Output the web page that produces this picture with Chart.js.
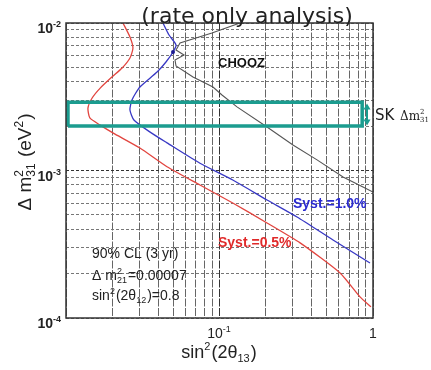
<!DOCTYPE html>
<html lang="en">
<head>
  <meta charset="UTF-8">
  <title>rate only analysis</title>
  <script src="https://cdn.jsdelivr.net/npm/chart.js"></script>
  <style>
    body { margin: 0; background: #fff; }
    canvas { display: block; }
  </style>
</head>
<body>
  <canvas id="chart" width="431" height="370"></canvas>

  <script>
    // Syst. = 0.5% (red)
    const redX = [0.0235, 0.0261, 0.0273, 0.0261, 0.0232, 0.0199, 0.0167, 0.0148, 0.0139, 0.0143, 0.0167,
                  0.0202, 0.0303, 0.0455, 0.0746, 0.122, 0.204, 0.335, 0.610, 0.823, 0.970];
    const redY = [0.01, 0.00804, 0.00677, 0.00579, 0.00495, 0.0043, 0.00362, 0.0031, 0.00265, 0.00227, 0.00203,
                  0.0018, 0.00142, 0.00106, 0.000797, 0.000602, 0.000441, 0.000323, 0.000202, 0.000139, 0.000119];

    // Syst. = 1.0% (blue)
    const blueX = [0.0428, 0.0469, 0.0521, 0.0498, 0.0448, 0.0392, 0.0303, 0.0269, 0.0261, 0.0277, 0.0353,
                   0.0455, 0.0746, 0.122, 0.204, 0.320, 0.549, 0.956];
    const blueY = [0.01, 0.00829, 0.00709, 0.00636, 0.00544, 0.00465, 0.00368, 0.00301, 0.00257, 0.0022, 0.00182,
                   0.00154, 0.00112, 0.000862, 0.000631, 0.000484, 0.000338, 0.000236];

    // CHOOZ limit (gray)
    const choozX = [0.136, 0.0893, 0.0553, 0.0521, 0.0587, 0.0513, 0.0521, 0.0672, 0.0907, 0.1038, 0.130,
                    0.204, 0.301, 0.432, 0.638, 0.861, 1.0];
    const choozY = [0.01, 0.00856, 0.00732, 0.00656, 0.00607, 0.00561, 0.00511, 0.00431, 0.00368, 0.00325, 0.0027,
                    0.00197, 0.00149, 0.00118, 0.000903, 0.000773, 0.000714];

    // SK allowed band
    const skX = [0.0103, 0.85];
    const skY = [0.002, 0.0029];
    const skArrowX = 0.914;
    const skArrowY = [0.00205, 0.0028];

    // grid positions and tick labels
    const gridX = [0.01, 0.02, 0.03, 0.04, 0.05, 0.06, 0.07, 0.08, 0.09,
                   0.1, 0.2, 0.3, 0.4, 0.5, 0.6, 0.7, 0.8, 0.9, 1];
    const gridY = [0.0001, 0.0002, 0.0003, 0.0004, 0.0005, 0.0006, 0.0007, 0.0008, 0.0009,
                   0.001, 0.002, 0.003, 0.004, 0.005, 0.006, 0.007, 0.008, 0.009, 0.01];
    const xLabelValues = [0.1, 1];
    const xLabelBase = ['10', '1'];
    const xLabelExp = ['-1', ''];
    const yLabelValues = [0.01, 0.001, 0.0001];
    const yLabelBase = ['10', '10', '10'];
    const yLabelExp = ['-2', '-3', '-4'];

    const SANS = "'Liberation Sans', Arial, sans-serif";

    function pts(xs, ys) {
      return xs.map((x, i) => ({ x: x, y: ys[i] }));
    }

    // draws text with super/subscripts; parts = strings or {sup, sub}
    function drawRich(c, parts, x, y, size, opt) {
      const wt = opt.weight || 'normal';
      const fam = opt.family || SANS;
      const small = Math.round(size * 0.62);
      const font = s => wt + ' ' + s + 'px ' + fam;
      const widths = [];
      let total = 0;
      parts.forEach(p => {
        let w;
        if (typeof p === 'string') {
          c.font = font(size);
          w = c.measureText(p).width;
        } else {
          c.font = font(small);
          w = Math.max(p.sup ? c.measureText(p.sup).width : 0, p.sub ? c.measureText(p.sub).width : 0) + 1;
        }
        widths.push(w);
        total += w;
      });
      let cx = x;
      if (opt.align === 'center') cx = x - total / 2;
      if (opt.align === 'right') cx = x - total;
      c.textAlign = 'left';
      c.textBaseline = 'alphabetic';
      c.fillStyle = opt.color || '#222';
      parts.forEach((p, i) => {
        if (typeof p === 'string') {
          c.font = font(size);
          c.fillText(p, cx, y);
        } else {
          c.font = font(small);
          if (p.sup) c.fillText(p.sup, cx, y - size * 0.42);
          if (p.sub) c.fillText(p.sub, cx, y + size * 0.22);
        }
        cx += widths[i];
      });
    }

    const decorations = {
      id: 'decorations',
      afterDatasetsDraw(chart) {
        const c = chart.ctx;
        const a = chart.chartArea;
        const sx = chart.scales.x, sy = chart.scales.y;
        c.save();
        // frame
        c.strokeStyle = '#333';
        c.lineWidth = 1.5;
        c.strokeRect(a.left, a.top, a.right - a.left, a.bottom - a.top);

        // SK double arrow
        const ax = sx.getPixelForValue(skArrowX);
        const y1 = sy.getPixelForValue(skArrowY[1]);
        const y2 = sy.getPixelForValue(skArrowY[0]);
        c.strokeStyle = '#1b9c8f';
        c.fillStyle = '#1b9c8f';
        c.lineWidth = 2;
        c.beginPath();
        c.moveTo(ax, y1 + 3);
        c.lineTo(ax, y2 - 3);
        c.stroke();
        c.beginPath();
        c.moveTo(ax, y1 - 1); c.lineTo(ax - 3.5, y1 + 5); c.lineTo(ax + 3.5, y1 + 5); c.closePath();
        c.moveTo(ax, y2 + 1); c.lineTo(ax - 3.5, y2 - 5); c.lineTo(ax + 3.5, y2 - 5); c.closePath();
        c.fill();
        c.restore();
      },
      afterDraw(chart) {
        const c = chart.ctx;
        const a = chart.chartArea;
        const sx = chart.scales.x, sy = chart.scales.y;
        c.save();

        // tick labels
        xLabelValues.forEach((v, i) => {
          const px = sx.getPixelForValue(v);
          const parts = xLabelExp[i] ? [xLabelBase[i], { sup: xLabelExp[i] }] : [xLabelBase[i]];
          drawRich(c, parts, px, a.bottom + 20, 14, { align: 'center', color: '#222' });
        });
        yLabelValues.forEach((v, i) => {
          const py = sy.getPixelForValue(v);
          drawRich(c, [yLabelBase[i], { sup: yLabelExp[i] }], a.left - 4, py + 10, 14,
            { align: 'right', weight: 'bold', color: '#222' });
        });

        // axis titles
        drawRich(c, ['sin', { sup: '2' }, '(2\u03b8', { sub: '13' }, ')'], 219, 358, 18, { align: 'center' });
        c.save();
        c.translate(31, 162);
        c.rotate(-Math.PI / 2);
        drawRich(c, ['\u0394 m', { sup: '2', sub: '31' }, ' (eV', { sup: '2' }, ')'], 0, 0, 19, { align: 'center' });
        c.restore();

        // title
        c.font = "22px 'DejaVu Sans', sans-serif";
        c.fillStyle = '#222';
        c.textAlign = 'center';
        c.textBaseline = 'alphabetic';
        c.fillText('(rate only analysis)', 247, 23);

        // SK label
        const ly = sy.getPixelForValue(Math.sqrt(skArrowY[0] * skArrowY[1])) + 5;
        drawRich(c, ['SK'], a.right + 2, ly, 15, { family: "'DejaVu Sans', sans-serif", color: '#222' });
        drawRich(c, ['\u0394m', { sup: '2', sub: '31' }], a.right + 27, ly, 12,
          { family: "'DejaVu Serif', serif", color: '#222' });

        // annotations
        drawRich(c, ['CHOOZ'], 218, 67, 13, { weight: 'bold', color: '#111' });
        drawRich(c, ['Syst.=1.0%'], 293, 208, 14, { weight: 'bold', color: '#2a2ad0' });
        drawRich(c, ['Syst.=0.5%'], 218, 247, 14, { weight: 'bold', color: '#e02a2a' });
        drawRich(c, ['90% CL (3 yr)'], 92, 258, 14, { color: '#222' });
        drawRich(c, ['\u0394 m', { sup: '2', sub: '21' }, '=0.00007'], 92, 280, 14, { color: '#222' });
        drawRich(c, ['sin', { sup: '2' }, '(2\u03b8', { sub: '12' }, ')=0.8'], 92, 300, 14, { color: '#222' });
        c.restore();
      }
    };

    const chart = new Chart(document.getElementById('chart').getContext('2d'), {
      type: 'scatter',
      data: {
        datasets: [
          {
            label: 'SK',
            data: pts([skX[0], skX[1], skX[1], skX[0], skX[0]], [skY[0], skY[0], skY[1], skY[1], skY[0]]),
            showLine: true,
            borderColor: '#1b9c8f',
            borderWidth: 3.5,
            pointRadius: 0,
            tension: 0,
            clip: 6
          },
          {
            label: 'Syst.=0.5%',
            data: pts(redX, redY),
            showLine: true,
            borderColor: '#e2453f',
            borderWidth: 1.3,
            pointRadius: 0,
            tension: 0.2
          },
          {
            label: 'Syst.=1.0%',
            data: pts(blueX, blueY),
            showLine: true,
            borderColor: '#3838c4',
            backgroundColor: '#1a1a90',
            borderWidth: 1.3,
            pointRadius: blueX.map((v, i) => i === 3 ? 2 : 0),
            pointBorderWidth: 0,
            tension: 0.2
          },
          {
            label: 'CHOOZ',
            data: pts(choozX, choozY),
            showLine: true,
            borderColor: '#555',
            borderWidth: 1.1,
            pointRadius: 0,
            tension: 0
          }
        ]
      },
      options: {
        responsive: false,
        animation: false,
        devicePixelRatio: 1,
        layout: { padding: { top: 23, right: 58, left: 0, bottom: 0 } },
        plugins: {
          legend: { display: false },
          tooltip: { enabled: false }
        },
        scales: {
          x: {
            type: 'logarithmic',
            min: 0.01,
            max: 1,
            afterBuildTicks: scale => { scale.ticks = gridX.map(v => ({ value: v })); },
            afterFit: scale => { scale.height = 52; },
            ticks: { display: false, autoSkip: false },
            grid: {
              drawTicks: false,
              lineWidth: 1,
              color: ctx => (gridX[ctx.index] === 0.1 ? '#333' : '#666')
            },
            border: { display: false, dash: [8, 1.5] }
          },
          y: {
            type: 'logarithmic',
            min: 0.0001,
            max: 0.01,
            afterBuildTicks: scale => { scale.ticks = gridY.map(v => ({ value: v })); },
            afterFit: scale => { scale.width = 66; },
            ticks: { display: false, autoSkip: false },
            grid: {
              drawTicks: false,
              lineWidth: 1,
              color: ctx => (gridY[ctx.index] === 0.001 ? '#333' : '#777')
            },
            border: { display: false, dash: [3, 2] }
          }
        }
      },
      plugins: [decorations]
    });
  </script>
</body>
</html>
